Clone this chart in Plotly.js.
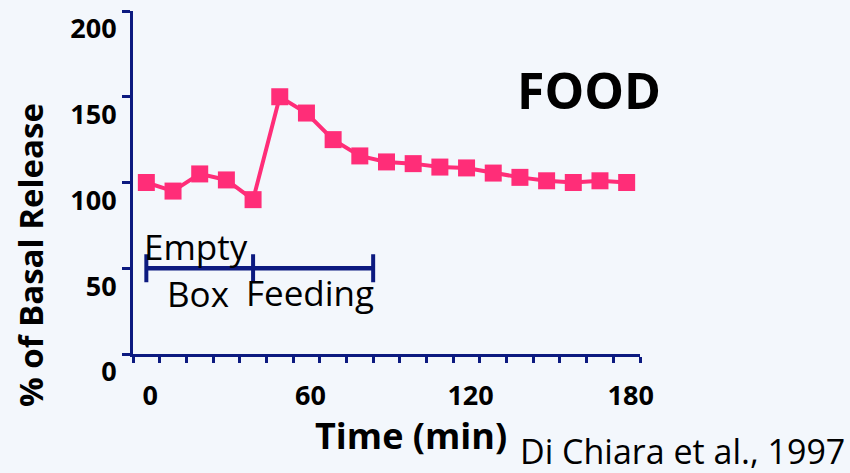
<!DOCTYPE html>
<html>
<head>
<meta charset="utf-8">
<script src="https://cdn.plot.ly/plotly-3.0.1.min.js"></script>
<style>
  html, body { margin: 0; padding: 0; background: #f3f7fc; }
  #chart { width: 850px; height: 473px; }
</style>
</head>
<body>
<div id="chart"></div>
<script>
// Data
const timeMin = [0, 10, 20, 30, 40, 50, 60, 70, 80, 90, 100, 110, 120, 130, 140, 150, 160, 170, 180];
const basalRelease = [100, 95, 105, 101.5, 90, 150, 140.5, 125, 115.5, 112, 111, 109, 108.5, 105.5, 103, 101, 100, 101, 100];

// Phase bracket (Empty box 0-40, Feeding 40-85) drawn at level 50
const phaseX = [0, 40, 85];
const phaseY = [50, 50, 50];

const xTickVals = [0, 60, 120, 180];
const xTickText = ['0', '60', '120', '180'];
const yTickVals = [0, 50, 100, 150, 200];
const yTickText = ['0', '50', '100', '150', '200'];

const navy = '#0c1a80';
const pink = '#ff2d78';
const font = '"Open Sans", Lato, sans-serif';

const traces = [
  {
    x: phaseX, y: phaseY,
    type: 'scatter', mode: 'lines+markers',
    line: { color: navy, width: 4.5 },
    marker: { symbol: 'line-ns', size: 20, color: navy, line: { color: navy, width: 4 } },
    hoverinfo: 'skip', showlegend: false
  },
  {
    x: timeMin, y: basalRelease,
    type: 'scatter', mode: 'lines+markers',
    line: { color: pink, width: 4 },
    marker: { symbol: 'square', size: 17, color: pink },
    showlegend: false
  }
];

const layout = {
  width: 850, height: 473,
  margin: { l: 133, r: 210, t: 11, b: 119 },
  paper_bgcolor: '#f3f7fc',
  plot_bgcolor: '#f3f7fc',
  font: { family: font, color: '#000' },
  showlegend: false,
  xaxis: {
    range: [-5, 185],
    showgrid: false, zeroline: false,
    showline: true, linecolor: navy, linewidth: 3,
    tickmode: 'array', tickvals: xTickVals, ticktext: xTickText,
    ticks: '',
    ticklabelshift: 4,
    ticklabelstandoff: 16,
    tickfont: { family: font, size: 27, color: '#000', weight: 'bold' },
    minor: { tick0: -5, dtick: 10, ticks: 'outside', ticklen: 6, tickwidth: 3, tickcolor: navy, showgrid: false }
  },
  yaxis: {
    range: [0, 200],
    showgrid: false, zeroline: false,
    showline: true, linecolor: navy, linewidth: 3,
    tickmode: 'array', tickvals: yTickVals, ticktext: yTickText,
    ticks: 'outside', ticklen: 8, tickwidth: 3, tickcolor: navy,
    ticklabelshift: 18,
    ticklabelstandoff: 0,
    tickfont: { family: font, size: 27, color: '#000', weight: 'bold' }
  },
  annotations: [
    { text: 'FOOD', xref: 'paper', yref: 'paper', x: 0.899, y: 0.77, xanchor: 'center', yanchor: 'middle',
      showarrow: false, font: { family: font, size: 50, color: '#000', weight: 'bold' } },
    { text: 'Empty', xref: 'x', yref: 'y', x: 18.7, y: 62.4, xanchor: 'center', yanchor: 'middle',
      showarrow: false, font: { family: font, size: 35, color: '#000', weight: 500 } },
    { text: 'Box', xref: 'x', yref: 'y', x: 19.5, y: 35.5, xanchor: 'center', yanchor: 'middle',
      showarrow: false, font: { family: font, size: 35, color: '#000', weight: 500 } },
    { text: 'Feeding', xref: 'x', yref: 'y', x: 61.5, y: 36, xanchor: 'center', yanchor: 'middle',
      showarrow: false, font: { family: font, size: 35, color: '#000', weight: 500 } },
    { text: '% of Basal Release', xref: 'paper', yref: 'paper', x: -0.201, y: 0.289, xanchor: 'center', yanchor: 'middle',
      textangle: -90, showarrow: false, font: { family: font, size: 33, color: '#000', weight: 'bold' } },
    { text: 'Time (min)', xref: 'paper', yref: 'paper', x: 0.548, y: -0.239, xanchor: 'center', yanchor: 'middle',
      showarrow: false, font: { family: font, size: 36, color: '#000', weight: 'bold' } },
    { text: 'Di Chiara et al., 1997', xref: 'paper', yref: 'paper', x: 1.083, y: -0.284, xanchor: 'center', yanchor: 'middle',
      showarrow: false, font: { family: font, size: 34, color: '#000', weight: 500 } }
  ]
};

Plotly.newPlot('chart', traces, layout, { displayModeBar: false, staticPlot: true });
</script>
</body>
</html>
